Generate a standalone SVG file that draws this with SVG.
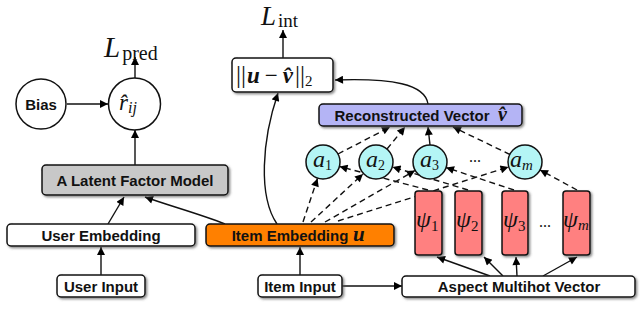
<svg xmlns="http://www.w3.org/2000/svg" width="640" height="334" viewBox="0 0 640 334">
<defs>
<filter id="sh" x="-10%" y="-20%" width="130%" height="160%">
<feDropShadow dx="1.5" dy="1.5" stdDeviation="0.8" flood-color="#555" flood-opacity="0.7"/>
</filter>
<marker id="ah" viewBox="0 0 10 10" refX="10" refY="5" markerWidth="9" markerHeight="8" orient="auto" markerUnits="userSpaceOnUse">
<path d="M0,0 L10,5 L0,10 z" fill="#000"/>
</marker>
</defs>
<style>
.box{stroke:#111;stroke-width:1.5;filter:url(#sh)}
.lbl{font-family:"Liberation Sans",Arial,sans-serif;font-weight:bold;font-size:15px;fill:#111;text-anchor:middle}
.m{font-family:"Liberation Serif","Times New Roman",serif;font-style:italic;fill:#111}
.rm{font-family:"Liberation Serif","Times New Roman",serif;fill:#111}
.c{fill:none;stroke:#111;stroke-width:1.4;marker-end:url(#ah)}
.d{fill:none;stroke:#111;stroke-width:1.4;stroke-dasharray:6,4;marker-end:url(#ah)}
.circ{stroke:#111;stroke-width:1.5}
</style>
<rect width="640" height="334" fill="#fff"/>

<g id="connectors">
<line class="c" x1="135" y1="78" x2="135" y2="57"/>
<line class="c" x1="67" y1="104" x2="108" y2="104"/>
<line class="c" x1="135" y1="165" x2="135" y2="130"/>
<line class="c" x1="283" y1="58" x2="283" y2="30"/>
<path class="c" d="M428,104 C425,84 392,78 335,80"/>
<path class="c" d="M277,224 C258,196 262,140 278,93"/>
<line class="c" x1="108" y1="224" x2="124" y2="197"/>
<path class="c" d="M225,224 C200,214 170,206 145,197"/>
<line class="c" x1="101" y1="275" x2="101" y2="247"/>
<line class="c" x1="300" y1="275" x2="300" y2="247"/>
<line class="c" x1="342" y1="286" x2="402" y2="286"/>
<line class="c" x1="490" y1="276" x2="437" y2="257"/>
<line class="c" x1="503" y1="276" x2="484" y2="257"/>
<line class="c" x1="517" y1="276" x2="516" y2="257"/>
<line class="c" x1="543" y1="276" x2="577" y2="257"/>
<line class="d" x1="303" y1="222" x2="317.5" y2="178.5"/>
<line class="d" x1="311" y1="222" x2="363" y2="174"/>
<line class="d" x1="325" y1="222" x2="415" y2="170.5"/>
<line class="d" x1="338" y1="221" x2="508.5" y2="167"/>
<line class="d" x1="428" y1="190" x2="339.5" y2="166.5"/>
<line class="d" x1="468" y1="190" x2="392.5" y2="167"/>
<line class="d" x1="514" y1="190" x2="446" y2="167.5"/>
<line class="d" x1="577" y1="190" x2="540" y2="170"/>
<line class="d" x1="338" y1="154" x2="390" y2="127"/>
<line class="d" x1="387" y1="149" x2="405" y2="127"/>
<line class="c" x1="430" y1="145" x2="428" y2="127"/>
<line class="d" x1="510" y1="154.5" x2="453" y2="127"/>
</g>

<g id="L_pred">
<text x="104" y="57"><tspan class="m" font-size="29">L</tspan><tspan class="rm" font-size="20" dx="2" dy="3">pred</tspan></text>
</g>
<g id="L_int">
<text x="261" y="25"><tspan class="m" font-size="27">L</tspan><tspan class="rm" font-size="19" dx="2" dy="2">int</tspan></text>
</g>

<g id="bias">
<circle class="circ" cx="41" cy="104" r="25" fill="#fff"/>
<text class="lbl" x="41" y="109.5">Bias</text>
</g>
<g id="r_hat">
<circle class="circ" cx="134.5" cy="104" r="26" fill="#fff"/>
<text x="119" y="110"><tspan class="m" font-size="23">r̂</tspan><tspan class="m" font-size="16" dy="3">ij</tspan></text>
</g>

<g id="norm">
<rect class="box" x="232" y="58" width="101" height="34" rx="4" fill="#fff"/>
<text x="236" y="83"><tspan class="rm" font-size="25">||</tspan><tspan class="m" font-size="23" font-weight="bold" dx="1">u</tspan><tspan class="rm" font-size="23" dx="5">−</tspan><tspan class="m" font-size="23" font-weight="bold" dx="5">v̂</tspan><tspan class="rm" font-size="25" dx="2">||</tspan><tspan class="rm" font-size="15" dy="3">2</tspan></text>
</g>

<g id="reconstructed">
<rect class="box" x="319" y="104" width="203" height="22" rx="4" fill="#b4b4f5"/>
<text class="lbl" x="412" y="120.5" font-size="14px">Reconstructed Vector</text>
<text class="m" x="498" y="121" font-size="20" font-weight="bold">v̂</text>
</g>

<g id="a1">
<circle class="circ" cx="323" cy="162" r="17" fill="#b4f5f5"/>
<text x="313" y="167"><tspan class="m" font-size="24">a</tspan><tspan class="rm" font-size="14" dy="3">1</tspan></text>
</g>
<g id="a2">
<circle class="circ" cx="376" cy="162" r="17" fill="#b4f5f5"/>
<text x="366" y="167"><tspan class="m" font-size="24">a</tspan><tspan class="rm" font-size="14" dy="3">2</tspan></text>
</g>
<g id="a3">
<circle class="circ" cx="430" cy="162" r="17" fill="#b4f5f5"/>
<text x="420" y="167"><tspan class="m" font-size="24">a</tspan><tspan class="rm" font-size="14" dy="3">3</tspan></text>
</g>
<g id="a_dots">
<text class="rm" x="475" y="162" font-size="16" text-anchor="middle">...</text>
</g>
<g id="am">
<circle class="circ" cx="525" cy="162" r="17" fill="#b4f5f5"/>
<text x="510" y="167"><tspan class="m" font-size="24">a</tspan><tspan class="m" font-size="15" dy="3">m</tspan></text>
</g>

<g id="psi1">
<rect class="box" x="415" y="191" width="27" height="64" rx="3" fill="#ff8080"/>
<text x="416" y="227"><tspan class="m" font-size="24">ψ</tspan><tspan class="rm" font-size="15" dy="4">1</tspan></text>
</g>
<g id="psi2">
<rect class="box" x="455" y="191" width="27" height="64" rx="3" fill="#ff8080"/>
<text x="456" y="227"><tspan class="m" font-size="24">ψ</tspan><tspan class="rm" font-size="15" dy="4">2</tspan></text>
</g>
<g id="psi3">
<rect class="box" x="502" y="191" width="26" height="64" rx="3" fill="#ff8080"/>
<text x="503" y="227"><tspan class="m" font-size="24">ψ</tspan><tspan class="rm" font-size="15" dy="4">3</tspan></text>
</g>
<g id="psi_dots">
<text class="rm" x="545" y="227" font-size="16" text-anchor="middle">...</text>
</g>
<g id="psim">
<rect class="box" x="563" y="191" width="27" height="64" rx="3" fill="#ff8080"/>
<text x="563" y="227"><tspan class="m" font-size="24">ψ</tspan><tspan class="m" font-size="15" dy="3">m</tspan></text>
</g>

<g id="latent">
<rect class="box" x="42" y="165" width="186" height="30" rx="4" fill="#c8c8c8"/>
<text class="lbl" x="135" y="185.5">A Latent Factor Model</text>
</g>
<g id="user_embedding">
<rect class="box" x="7" y="224" width="188" height="22" rx="4" fill="#fff"/>
<text class="lbl" x="101" y="240.5">User Embedding</text>
</g>
<g id="item_embedding">
<rect class="box" x="206" y="224" width="188" height="22" rx="4" fill="#ff8000"/>
<text class="lbl" x="290" y="240.5">Item Embedding</text>
<text class="m" x="353" y="241" font-size="21" font-weight="bold">u</text>
</g>
<g id="user_input">
<rect class="box" x="57" y="275" width="88" height="22" rx="4" fill="#fff"/>
<text class="lbl" x="101" y="291.5">User Input</text>
</g>
<g id="item_input">
<rect class="box" x="258" y="275" width="84" height="22" rx="4" fill="#fff"/>
<text class="lbl" x="300" y="291.5">Item Input</text>
</g>
<g id="aspect">
<rect class="box" x="402" y="276" width="233" height="21" rx="4" fill="#fff"/>
<text class="lbl" x="519" y="292">Aspect Multihot Vector</text>
</g>
</svg>
